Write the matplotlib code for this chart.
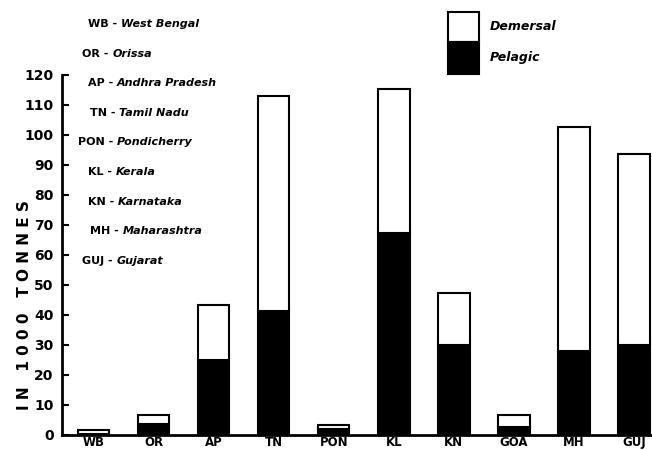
import numpy as np
import matplotlib.pyplot as plt
from matplotlib.patches import Rectangle

# state-wise landings (in 1000 tonnes)
states = ['WB', 'OR', 'AP', 'TN', 'PON', 'KL', 'KN', 'GOA', 'MH', 'GUJ']
pelagic = [0.5, 3.7, 25, 41.3, 2, 67.3, 30, 2.7, 28, 30]
total = [1.7, 6.7, 43.3, 113, 3.3, 115.3, 47.3, 6.7, 102.7, 93.7]
demersal = [t - p for t, p in zip(total, pelagic)]
yticks = list(range(0, 121, 10))

abbrev = ['WB', 'OR', 'AP', 'TN', 'PON', 'KL', 'KN', 'MH', 'GUJ']
names = ['West Bengal', 'Orissa', 'Andhra Pradesh', 'Tamil Nadu', 'Pondicherry',
         'Kerala', 'Karnataka', 'Maharashtra', 'Gujarat']
abbrev_x = [88, 82, 88, 90, 78, 88, 88, 90, 82]

fig = plt.figure(figsize=(6.52, 4.5), dpi=100)
ax = fig.add_axes([62 / 652, 15 / 450, 590 / 652, 360 / 450])

x = np.arange(len(states))
w = 0.52
ax.bar(x, pelagic, w, color='black', edgecolor='black', linewidth=1.5)
ax.bar(x, demersal, w, bottom=pelagic, color='white', edgecolor='black', linewidth=1.5)

ax.set_xlim(-0.53, 9.3)
ax.set_ylim(0, 120)
ax.set_yticks(yticks)
ax.set_yticklabels([str(v) for v in yticks], fontsize=10, fontweight='bold')
ax.set_xticks(x)
ax.set_xticklabels(states, fontsize=8.5, fontweight='bold')
ax.tick_params(axis='y', direction='in', length=5, width=1.5, pad=6)
ax.tick_params(axis='x', length=0, pad=1)
for s in ['top', 'right']:
    ax.spines[s].set_visible(False)
ax.spines['left'].set_linewidth(2)
ax.spines['bottom'].set_linewidth(2)

fig.text(25 / 652, 1 - 305 / 450, 'I N   1 0 0 0   T O N N E S', rotation=90,
         ha='center', va='center', fontsize=11, fontweight='bold')

# abbreviation list
for i, (a, n, sx) in enumerate(zip(abbrev, names, abbrev_x)):
    yy = 1 - (24 + i * 29.6) / 450
    t = fig.text(sx / 652, yy, a + ' - ', fontsize=8, fontweight='bold', va='center')
    fig.canvas.draw()
    bb = t.get_window_extent()
    fig.text(bb.x1 / 652, yy, n, fontsize=8, fontweight='bold', style='italic', va='center')

# legend box
fig.patches.append(Rectangle((448 / 652, 1 - 42 / 450), 31 / 652, 30 / 450,
                             transform=fig.transFigure, facecolor='white',
                             edgecolor='black', linewidth=1.5))
fig.patches.append(Rectangle((448 / 652, 1 - 74 / 450), 31 / 652, 32 / 450,
                             transform=fig.transFigure, facecolor='black',
                             edgecolor='black', linewidth=1.5))
fig.text(490 / 652, 1 - 27 / 450, 'Demersal', fontsize=9, fontweight='bold',
         style='italic', va='center')
fig.text(490 / 652, 1 - 57 / 450, 'Pelagic', fontsize=9, fontweight='bold',
         style='italic', va='center')

fig.savefig('out.png', dpi=100)
